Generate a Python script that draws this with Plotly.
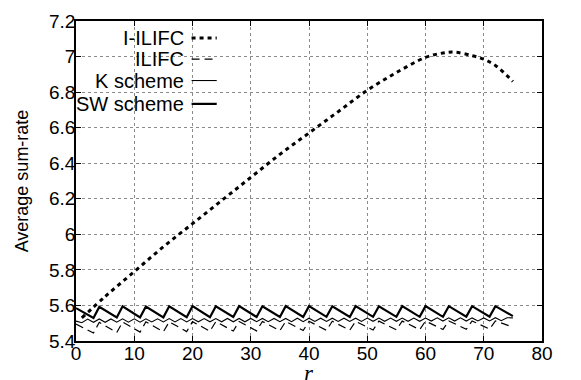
import plotly.graph_objects as go

# ---- data ----
r_iilifc = [1, 5, 10, 15, 20, 25, 30, 35, 40, 45, 50, 55, 60, 63, 65, 68, 70, 72, 75]
iilifc = [5.53, 5.65, 5.79, 5.93, 6.06, 6.19, 6.32, 6.45, 6.57, 6.69, 6.81, 6.91,
          6.995, 7.02, 7.025, 7.005, 6.985, 6.95, 6.86]

r_saw = [0, 3, 4, 7, 8, 11, 12, 15, 16, 19, 20, 23, 24, 27, 28, 31, 32, 35, 36, 39,
         40, 43, 44, 47, 48, 51, 52, 55, 56, 59, 60, 63, 64, 67, 68, 71, 72, 75]
sw = [5.585, 5.530, 5.592, 5.532, 5.595, 5.533, 5.594, 5.533, 5.595, 5.534, 5.596, 5.534,
      5.595, 5.535, 5.596, 5.535, 5.595, 5.535, 5.596, 5.535, 5.596, 5.536, 5.595, 5.535,
      5.596, 5.536, 5.595, 5.536, 5.596, 5.536, 5.596, 5.536, 5.596, 5.537, 5.596, 5.537,
      5.596, 5.540]
ilifc = [5.495, 5.445, 5.505, 5.448, 5.507, 5.450, 5.508, 5.452, 5.508, 5.453, 5.509, 5.455,
         5.509, 5.456, 5.510, 5.457, 5.510, 5.458, 5.510, 5.459, 5.511, 5.460, 5.511, 5.461,
         5.511, 5.462, 5.512, 5.463, 5.512, 5.464, 5.512, 5.465, 5.513, 5.466, 5.513, 5.467,
         5.513, 5.478]

r_k = list(range(0, 76))
k_scheme = [5.512, 5.503, 5.523, 5.505, 5.524, 5.505, 5.524, 5.506, 5.525, 5.506,
            5.525, 5.506, 5.525, 5.507, 5.525, 5.507, 5.526, 5.507, 5.526, 5.507,
            5.526, 5.508, 5.526, 5.508, 5.526, 5.508, 5.527, 5.508, 5.527, 5.508,
            5.527, 5.509, 5.527, 5.509, 5.527, 5.509, 5.527, 5.509, 5.528, 5.509,
            5.528, 5.510, 5.528, 5.510, 5.528, 5.510, 5.528, 5.510, 5.528, 5.510,
            5.529, 5.511, 5.529, 5.511, 5.529, 5.511, 5.529, 5.511, 5.529, 5.511,
            5.529, 5.512, 5.530, 5.512, 5.530, 5.512, 5.530, 5.512, 5.530, 5.513,
            5.530, 5.513, 5.531, 5.514, 5.531, 5.530]

legend_names = ["I-ILIFC", "ILIFC", "K scheme", "SW scheme"]

x_ticks = [0, 10, 20, 30, 40, 50, 60, 70, 80]
y_ticks = [5.4, 5.6, 5.8, 6.0, 6.2, 6.4, 6.6, 6.8, 7.0, 7.2]
y_tick_labels = ["5.4", "5.6", "5.8", "6", "6.2", "6.4", "6.6", "6.8", "7", "7.2"]

# ---- styles ----
styles = {
    "I-ILIFC": dict(color="black", width=3, dash="4px,4px"),
    "ILIFC": dict(color="black", width=1.2, dash="8px,5px"),
    "K scheme": dict(color="black", width=1.1),
    "SW scheme": dict(color="black", width=2.2),
}

fig = go.Figure()
fig.add_trace(go.Scatter(x=r_k, y=k_scheme, mode="lines", name="K scheme",
                         line=styles["K scheme"], showlegend=False))
fig.add_trace(go.Scatter(x=r_saw, y=ilifc, mode="lines", name="ILIFC",
                         line=styles["ILIFC"], showlegend=False))
fig.add_trace(go.Scatter(x=r_saw, y=sw, mode="lines", name="SW scheme",
                         line=styles["SW scheme"], showlegend=False))
fig.add_trace(go.Scatter(x=r_iilifc, y=iilifc, mode="lines", name="I-ILIFC",
                         line=dict(shape="spline", **styles["I-ILIFC"]), showlegend=False))

# ---- manual legend (text on the left, sample line on the right) ----
row_y = [0.947, 0.881, 0.814, 0.741]
for name, yy in zip(legend_names, row_y):
    fig.add_annotation(x=0.235, y=yy, xref="paper", yref="paper", text=name,
                       showarrow=False, xanchor="right", yanchor="middle",
                       font=dict(family="Liberation Sans, Arial", size=20, color="black"))
    fig.add_shape(type="line", xref="paper", yref="paper", x0=0.248, x1=0.302,
                  y0=yy, y1=yy, line=styles[name])

# x-axis title as annotation
fig.add_annotation(x=0.5, y=-0.1, xref="paper", yref="paper", text="<i>r</i>",
                   showarrow=False, xanchor="center", yanchor="middle",
                   height=14, valign="middle",
                   font=dict(family="Liberation Serif, Times New Roman", size=23, color="black"))

axis_common = dict(showline=True, linecolor="black", linewidth=1.5, mirror="ticks",
                   ticks="inside", ticklen=5, tickcolor="black", showgrid=True,
                   gridcolor="#8a8a8a", griddash="dot", gridwidth=1, zeroline=False,
                   automargin=False,
                   tickfont=dict(family="Liberation Sans, Arial", size=19, color="black"))

fig.update_xaxes(range=[0, 80], tickvals=x_ticks, ticklabelstandoff=-6, **axis_common)
fig.update_yaxes(range=[5.4, 7.2], tickvals=y_ticks, ticktext=y_tick_labels,
                 ticklabelstandoff=-5, **axis_common,
                 title=dict(text="Average sum-rate", standoff=16,
                            font=dict(family="Liberation Sans, Arial", size=18, color="black")))

fig.update_layout(width=581, height=380, margin=dict(l=68, r=47, t=13, b=47),
                  paper_bgcolor="white", plot_bgcolor="white", showlegend=False)

fig.write_html("out.html")
